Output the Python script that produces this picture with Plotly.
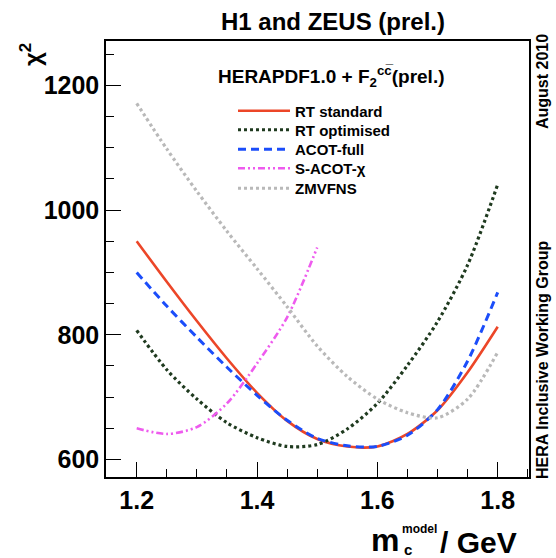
import plotly.graph_objects as go

# ---- data ----
mc = [1.20, 1.25, 1.30, 1.35, 1.40, 1.45, 1.50, 1.55, 1.60, 1.65, 1.70, 1.75, 1.80]
rt_standard = [950, 885, 822, 762, 707, 662, 633, 621, 621, 641, 679, 740, 813]
rt_optimised = [807, 744, 697, 659, 635, 621, 624, 649, 690, 751, 821, 912, 1041]
acot_full = [900, 846, 796, 748, 703, 663, 634, 622, 621, 639, 680, 758, 868]
zmvfns = [1171, 1098, 1030, 966, 906, 845, 782, 733, 697, 675, 667, 697, 772]
mc_sacot = [1.20, 1.25, 1.30, 1.35, 1.40, 1.45, 1.50]
s_acot_chi = [650, 641, 652, 690, 754, 828, 940]

x_ticks = [1.2, 1.4, 1.6, 1.8]
y_ticks = [600, 800, 1000, 1200]

FONT = "Liberation Sans"

# plot frame in pixels
W, H = 556, 558
L, R, T, B = 106, 529, 41, 477


def px(x):
    return (x - L) / (R - L)


def py(y):
    return (B - y) / (B - T)


fig = go.Figure()

series = [
    ("RT standard", mc, rt_standard, dict(color="#ec4628", width=2.6, dash="solid")),
    ("RT optimised", mc, rt_optimised, dict(color="#1f3a1f", width=3.2, dash="3px,3px")),
    ("ACOT-full", mc, acot_full, dict(color="#1b4dfa", width=3.0, dash="8px,5px")),
    ("S-ACOT-\u03c7", mc_sacot, s_acot_chi, dict(color="#ee5bee", width=2.6, dash="7px,3px,2px,3px,2px,3px")),
    ("ZMVFNS", mc, zmvfns, dict(color="#b9b9b9", width=3.2, dash="3px,3px")),
]
legend_rows = [111, 130, 149.5, 168.5, 188.5]   # legend row centres (px)
legend_layout = {}
for i, (name, xs, ys, ln) in enumerate(series):
    key = "legend" if i == 0 else f"legend{i + 1}"
    fig.add_trace(go.Scatter(x=xs, y=ys, mode="lines", name=name, legend=key,
                             line=dict(shape="spline", smoothing=0.8, **ln)))
    legend_layout[key] = dict(x=px(233), y=py(legend_rows[i]), xanchor="left", yanchor="middle",
                              bgcolor="rgba(0,0,0,0)", borderwidth=0,
                              font=dict(family=FONT, size=15, color="black", weight="bold"),
                              itemwidth=52)

axis_common = dict(
    showgrid=False, zeroline=False, showline=True, linecolor="black", linewidth=1.5,
    mirror=True, ticks="inside", tickcolor="black", tickwidth=1.3,
    tickfont=dict(family=FONT, size=25, color="black", weight="bold"),
)

fig.update_xaxes(range=[1.149, 1.852], tickvals=x_ticks, ticktext=[f"{v:.1f}" for v in x_ticks],
                 ticklen=15,
                 minor=dict(ticks="inside", dtick=0.05, tick0=1.2, ticklen=8, tickcolor="black", tickwidth=1.3),
                 **axis_common)
fig.update_yaxes(range=[572, 1271], tickvals=y_ticks, ticktext=[str(v) for v in y_ticks],
                 ticklen=15,
                 minor=dict(ticks="inside", dtick=50, tick0=600, ticklen=8, tickcolor="black", tickwidth=1.3),
                 **axis_common)

annotations = [
    dict(text="H1 and ZEUS (prel.)", x=px(333), y=py(21), font=dict(size=24)),
    dict(text="HERAPDF1.0 + F<sub>2</sub><sup>cc\u0305</sup>(prel.)", x=px(331), y=py(76), font=dict(size=19)),
    dict(text="\u03c7<sup>2</sup>", x=px(31), y=py(55), font=dict(size=24), textangle=-90),
    dict(text="m", x=px(385), y=py(540), font=dict(size=32)),
    dict(text="model", x=px(419), y=py(529), font=dict(size=12)),
    dict(text="c", x=px(407.5), y=py(549), font=dict(size=15)),
    dict(text="/ GeV", x=px(478.5), y=py(542), font=dict(size=30)),
    dict(text="HERA Inclusive Working Group", x=px(542), y=py(360), font=dict(size=16), textangle=-90),
    dict(text="August 2010", x=px(542), y=py(82), font=dict(size=16), textangle=-90),
]
for a in annotations:
    f = dict(family=FONT, color="black", weight="bold")
    f.update(a.pop("font"))
    fig.add_annotation(xref="paper", yref="paper", showarrow=False, xanchor="center", yanchor="middle",
                       font=f, **a)

fig.update_layout(
    width=W, height=H,
    margin=dict(l=L, r=W - R, t=T, b=H - B),
    paper_bgcolor="white", plot_bgcolor="white",
    showlegend=True,
    **legend_layout,
)

fig.write_html("out.html", config={"displayModeBar": False},
               post_script="document.body.style.margin='0px';document.body.style.overflow='hidden';")
